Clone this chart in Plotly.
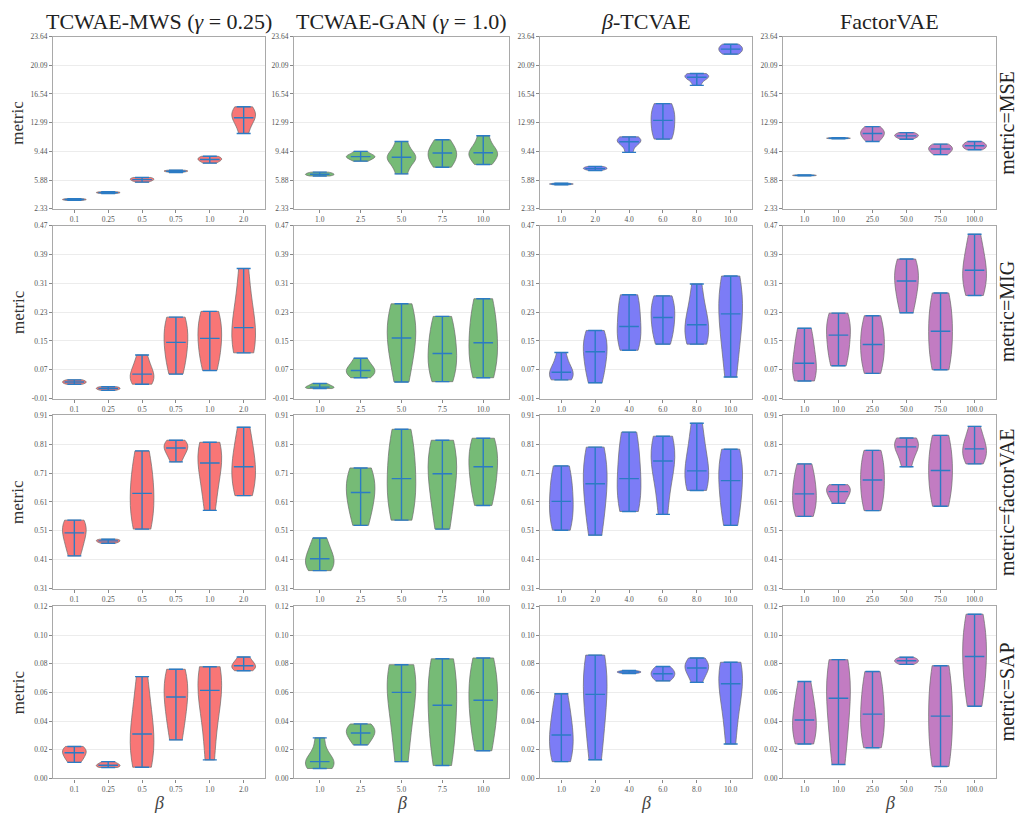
import plotly.graph_objects as go

# ---------------- data ----------------
MODELS = ["TCWAE-MWS (<i>γ</i> = 0.25)", "TCWAE-GAN (<i>γ</i> = 1.0)", "<i>β</i>-TCVAE", "FactorVAE"]
METRICS = ["MSE", "MIG", "factorVAE", "SAP"]

BETAS_MWS = ["0.1", "0.25", "0.5", "0.75", "1.0", "2.0"]
BETAS_GAN = ["1.0", "2.5", "5.0", "7.5", "10.0"]
BETAS_TCVAE = ["1.0", "2.0", "4.0", "6.0", "8.0", "10.0"]
BETAS_FACTOR = ["1.0", "10.0", "25.0", "50.0", "75.0", "100.0"]

YTICKS_MSE = ["2.33", "5.88", "9.44", "12.99", "16.54", "20.09", "23.64"]
YTICKS_MIG = ["-0.01", "0.07", "0.15", "0.23", "0.31", "0.39", "0.47"]
YTICKS_FVAE = ["0.31", "0.41", "0.51", "0.61", "0.71", "0.81", "0.91"]
YTICKS_SAP = ["0.00", "0.02", "0.04", "0.06", "0.08", "0.10", "0.12"]

# per-seed scores (5 seeds per beta)
MSE_MWS = [[3.36, 3.42, 3.47, 3.52, 3.58], [4.22, 4.28, 4.33, 4.38, 4.44], [5.62, 5.85, 5.93, 6.10, 6.20],
           [6.82, 6.92, 6.98, 7.04, 7.10], [7.98, 8.30, 8.42, 8.65, 8.82], [11.65, 13.3, 13.6, 14.4, 14.95]]
MSE_GAN = [[6.38, 6.50, 6.60, 6.72, 6.86], [8.22, 8.65, 8.78, 8.95, 9.43], [6.65, 8.3, 8.7, 9.0, 10.66],
           [7.47, 8.4, 9.23, 9.6, 10.87], [7.8, 8.8, 9.27, 9.7, 11.36]]
MSE_TCVAE = [[5.30, 5.35, 5.39, 5.43, 5.48], [7.07, 7.25, 7.30, 7.45, 7.56], [9.31, 10.4, 10.62, 10.95, 11.23],
             [10.95, 11.8, 13.27, 14.3, 15.35], [17.6, 18.4, 18.62, 18.85, 19.07], [21.47, 21.8, 22.09, 22.4, 22.7]]
MSE_FACTOR = [[6.40, 6.43, 6.46, 6.49, 6.52], [11.0, 11.03, 11.06, 11.09, 11.12], [10.66, 11.3, 11.64, 12.0, 12.5],
              [10.94, 11.25, 11.35, 11.55, 11.76], [9.03, 9.45, 9.72, 10.0, 10.33], [9.64, 9.9, 10.13, 10.35, 10.66]]

MIG_MWS = [[0.030, 0.033, 0.036, 0.039, 0.042], [0.013, 0.016, 0.018, 0.021, 0.023], [0.030, 0.040, 0.058, 0.075, 0.111],
           [0.058, 0.11, 0.146, 0.19, 0.216], [0.068, 0.12, 0.157, 0.2, 0.232], [0.117, 0.14, 0.187, 0.24, 0.351]]
MIG_GAN = [[0.018, 0.020, 0.022, 0.027, 0.032], [0.048, 0.062, 0.068, 0.08, 0.102], [0.036, 0.12, 0.158, 0.21, 0.253],
           [0.037, 0.08, 0.115, 0.17, 0.218], [0.048, 0.10, 0.145, 0.21, 0.267]]
MIG_TCVAE = [[0.042, 0.05, 0.063, 0.08, 0.118], [0.034, 0.08, 0.12, 0.15, 0.179], [0.124, 0.16, 0.19, 0.25, 0.278],
             [0.141, 0.18, 0.215, 0.25, 0.275], [0.141, 0.16, 0.195, 0.23, 0.308], [0.05, 0.16, 0.225, 0.28, 0.33]]
MIG_FACTOR = [[0.039, 0.06, 0.088, 0.14, 0.185], [0.081, 0.12, 0.166, 0.2, 0.227], [0.060, 0.10, 0.14, 0.18, 0.220],
              [0.228, 0.28, 0.316, 0.35, 0.377], [0.070, 0.12, 0.177, 0.23, 0.283], [0.276, 0.31, 0.346, 0.38, 0.446]]

FVAE_MWS = [[0.423, 0.47, 0.503, 0.53, 0.547], [0.467, 0.471, 0.475, 0.478, 0.481], [0.516, 0.57, 0.64, 0.70, 0.787],
            [0.749, 0.78, 0.797, 0.81, 0.824], [0.581, 0.68, 0.745, 0.79, 0.817], [0.632, 0.68, 0.732, 0.78, 0.869]]
FVAE_GAN = [[0.372, 0.39, 0.413, 0.44, 0.485], [0.529, 0.60, 0.643, 0.69, 0.728], [0.547, 0.62, 0.691, 0.78, 0.862],
            [0.516, 0.63, 0.708, 0.77, 0.824], [0.598, 0.67, 0.732, 0.79, 0.831]]
FVAE_TCVAE = [[0.512, 0.56, 0.612, 0.68, 0.735], [0.495, 0.60, 0.673, 0.74, 0.80], [0.577, 0.63, 0.691, 0.78, 0.852],
              [0.567, 0.70, 0.752, 0.80, 0.838], [0.65, 0.69, 0.718, 0.79, 0.883], [0.529, 0.61, 0.684, 0.74, 0.793]]
FVAE_FACTOR = [[0.56, 0.60, 0.638, 0.69, 0.742], [0.605, 0.63, 0.646, 0.66, 0.670], [0.58, 0.63, 0.686, 0.74, 0.789],
               [0.732, 0.78, 0.801, 0.82, 0.832], [0.595, 0.66, 0.719, 0.78, 0.841], [0.742, 0.77, 0.794, 0.82, 0.872]]

SAP_MWS = [[0.0112, 0.015, 0.0179, 0.020, 0.0223], [0.0076, 0.0084, 0.0092, 0.0102, 0.0117], [0.0078, 0.018, 0.031, 0.045, 0.071],
           [0.0269, 0.045, 0.0568, 0.068, 0.0761], [0.0129, 0.045, 0.0614, 0.072, 0.0779], [0.0751, 0.077, 0.0786, 0.081, 0.0847]]
SAP_GAN = [[0.0069, 0.009, 0.0117, 0.016, 0.0283], [0.0234, 0.029, 0.0317, 0.035, 0.038], [0.0117, 0.04, 0.060, 0.072, 0.0793],
           [0.009, 0.03, 0.051, 0.07, 0.0834], [0.0193, 0.04, 0.0545, 0.07, 0.084]]
SAP_TCVAE = [[0.0117, 0.02, 0.0303, 0.042, 0.059], [0.013, 0.04, 0.0586, 0.075, 0.086], [0.0732, 0.0738, 0.0742, 0.0746, 0.0752],
             [0.068, 0.071, 0.073, 0.075, 0.078], [0.067, 0.074, 0.077, 0.080, 0.084], [0.024, 0.05, 0.066, 0.075, 0.081]]
SAP_FACTOR = [[0.024, 0.032, 0.0407, 0.052, 0.0676], [0.0097, 0.035, 0.0559, 0.07, 0.0828], [0.0214, 0.033, 0.0448, 0.06, 0.0745],
              [0.0795, 0.081, 0.082, 0.083, 0.0845], [0.0083, 0.025, 0.0434, 0.062, 0.0786], [0.0503, 0.07, 0.085, 0.10, 0.1145]]

# ---------------- layout helpers ----------------
BETAS = [BETAS_MWS, BETAS_GAN, BETAS_TCVAE, BETAS_FACTOR]
YTICKS = [YTICKS_MSE, YTICKS_MIG, YTICKS_FVAE, YTICKS_SAP]
GRID = [
    [MSE_MWS, MSE_GAN, MSE_TCVAE, MSE_FACTOR],
    [MIG_MWS, MIG_GAN, MIG_TCVAE, MIG_FACTOR],
    [FVAE_MWS, FVAE_GAN, FVAE_TCVAE, FVAE_FACTOR],
    [SAP_MWS, SAP_GAN, SAP_TCVAE, SAP_FACTOR],
]
FILLS = ["#f87676", "#76bb76", "#7c7cf6", "#c27cc2"]
LINE_BLUE = "#2b7bc4"
W, H = 1021, 821
XPIX = [(53, 265), (294, 509), (540, 752), (783, 996)]
YPIX = [(33, 207), (224, 399), (416, 591), (609, 783)]
SERIF = "Liberation Serif"
TICKCOL = "#555555"

fig = go.Figure()
layout = dict(
    width=W, height=H, autosize=False,
    margin=dict(l=0, r=0, t=0, b=0),
    paper_bgcolor="white", plot_bgcolor="white",
    showlegend=False, hovermode=False, violinmode="overlay",
    font=dict(family=SERIF, color="#333"),
)

annotations = []
for r in range(4):
    for c in range(4):
        k = r * 4 + c + 1
        xs = "x" if k == 1 else f"x{k}"
        ys = "y" if k == 1 else f"y{k}"
        cats = BETAS[c]
        data = GRID[r][c]
        for cat, vals in zip(cats, data):
            fig.add_trace(go.Violin(
                x=[cat] * len(vals), y=vals, xaxis=xs, yaxis=ys,
                spanmode="hard", width=0.7, scalemode="width",
                points=False, box_visible=False, meanline_visible=False,
                fillcolor=FILLS[c], opacity=1.0,
                line=dict(color="rgba(110,110,110,0.9)", width=0.8),
                showlegend=False, hoverinfo="skip",
            ))
        mins = [min(v) for v in data]
        maxs = [max(v) for v in data]
        meds = [sorted(v)[len(v) // 2] for v in data]
        fig.add_trace(go.Scatter(
            x=cats, y=meds, xaxis=xs, yaxis=ys, mode="markers",
            marker=dict(symbol="line-ew", size=14, line=dict(color=LINE_BLUE, width=1.4)),
            error_y=dict(type="data", symmetric=False,
                         array=[mx - md for mx, md in zip(maxs, meds)],
                         arrayminus=[md - mn for md, mn in zip(meds, mins)],
                         color=LINE_BLUE, thickness=1.4, width=7),
            showlegend=False, hoverinfo="skip",
        ))
        x0, x1 = XPIX[c]
        y0, y1 = YPIX[r]
        n = len(cats)
        ticks = YTICKS[r]
        tv = [float(t) for t in ticks]
        xa = dict(
            domain=[x0 / W, x1 / W], anchor=ys, type="category",
            categoryorder="array", categoryarray=cats,
            range=[-0.63, n - 1 + 0.63],
            showline=True, mirror=True, linecolor="#a9a9a9", linewidth=1.2,
            showgrid=False, zeroline=False,
            ticks="outside", ticklen=3, tickwidth=0.8, tickcolor="#888",
            tickfont=dict(family=SERIF, size=7.5, color=TICKCOL),
        )
        ya = dict(
            domain=[1 - y1 / H, 1 - y0 / H], anchor=xs,
            range=[tv[0], tv[-1]], tickvals=tv, ticktext=ticks,
            showline=True, mirror=True, linecolor="#a9a9a9", linewidth=1.2,
            showgrid=True, gridcolor="#ececec", gridwidth=1, zeroline=False,
            ticks="outside", ticklen=3, tickwidth=0.8, tickcolor="#888",
            tickfont=dict(family=SERIF, size=7.5, color=TICKCOL),
        )
        layout["xaxis" if k == 1 else f"xaxis{k}"] = xa
        layout["yaxis" if k == 1 else f"yaxis{k}"] = ya

# column titles and bottom beta labels
for c in range(4):
    xc = (XPIX[c][0] + XPIX[c][1]) / 2 / W
    annotations.append(dict(text=MODELS[c], x=xc, y=1 - 18 / H, xref="paper", yref="paper",
                            xanchor="center", yanchor="middle", showarrow=False,
                            font=dict(family=SERIF, size=22, color="#222")))
    annotations.append(dict(text="<i>β</i>", x=xc, y=1 - 808 / H, xref="paper", yref="paper",
                            xanchor="center", yanchor="middle", showarrow=False,
                            font=dict(family=SERIF, size=18, color="#444")))

# row labels
for r in range(4):
    yc = 1 - (YPIX[r][0] + YPIX[r][1]) / 2 / H
    annotations.append(dict(text="metric", x=18 / W, y=yc, xref="paper", yref="paper",
                            xanchor="center", yanchor="middle", showarrow=False, textangle=-90,
                            font=dict(family=SERIF, size=17, color="#333")))
    annotations.append(dict(text=f"metric={METRICS[r]}", x=1007 / W, y=yc, xref="paper", yref="paper",
                            xanchor="center", yanchor="middle", showarrow=False, textangle=-90,
                            font=dict(family=SERIF, size=20, color="#222")))

layout["annotations"] = annotations
fig.update_layout(**layout)
fig.write_html("out.html")
